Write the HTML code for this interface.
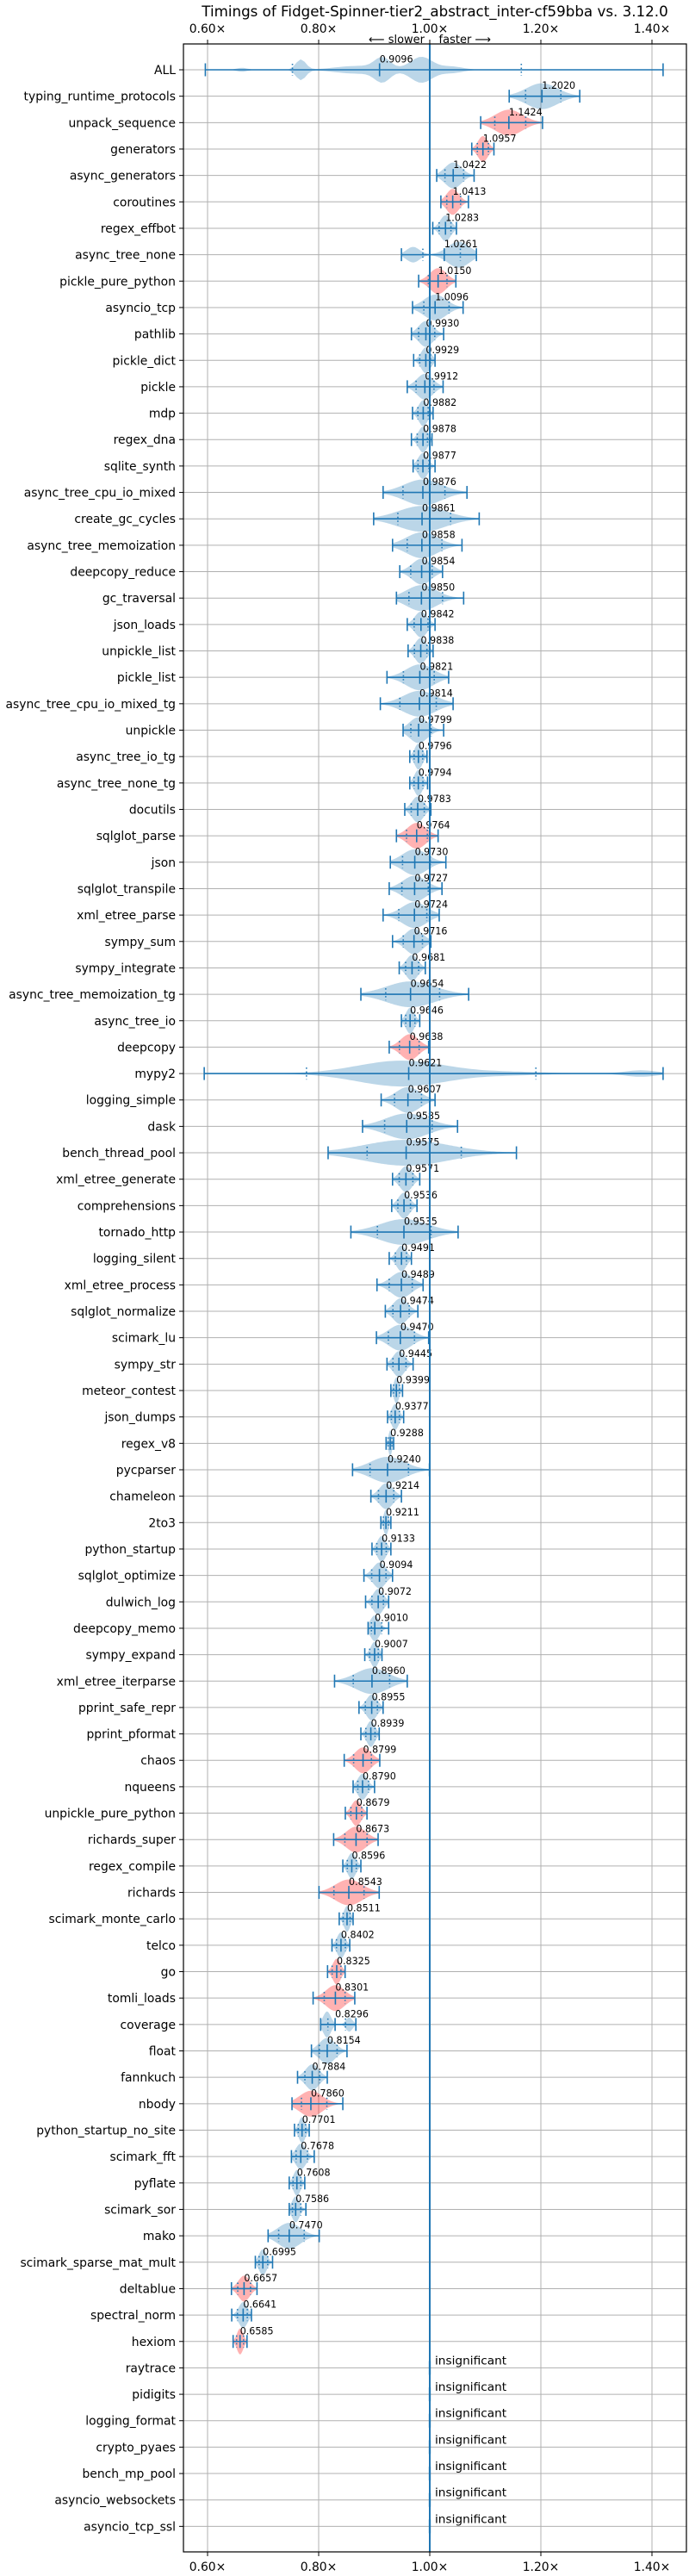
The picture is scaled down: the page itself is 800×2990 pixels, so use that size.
<!DOCTYPE html>
<html><head><meta charset="utf-8"><style>
html,body{margin:0;padding:0;background:#fff}
svg{display:block}
text{font-family:"DejaVu Sans","Liberation Sans",sans-serif;fill:#000}
</style></head><body>
<svg id="chart" xmlns="http://www.w3.org/2000/svg" width="800" height="2990" viewBox="0 0 800 2990">
<rect x="0" y="0" width="800" height="2990" fill="#fff"/>
<text x="505" y="19" text-anchor="middle" font-size="16.7">Timings of Fidget-Spinner-tier2_abstract_inter-cf59bba vs. 3.12.0</text>
<text x="499" y="50" text-anchor="middle" font-size="13" xml:space="preserve">⟵ slower    faster ⟶</text>
<g id="grid"></g>
<g id="violins"></g>
<g id="axes"></g>
</svg>
<script>
const names = ["ALL","typing_runtime_protocols","unpack_sequence","generators","async_generators","coroutines","regex_effbot","async_tree_none","pickle_pure_python","asyncio_tcp","pathlib","pickle_dict","pickle","mdp","regex_dna","sqlite_synth","async_tree_cpu_io_mixed","create_gc_cycles","async_tree_memoization","deepcopy_reduce","gc_traversal","json_loads","unpickle_list","pickle_list","async_tree_cpu_io_mixed_tg","unpickle","async_tree_io_tg","async_tree_none_tg","docutils","sqlglot_parse","json","sqlglot_transpile","xml_etree_parse","sympy_sum","sympy_integrate","async_tree_memoization_tg","async_tree_io","deepcopy","mypy2","logging_simple","dask","bench_thread_pool","xml_etree_generate","comprehensions","tornado_http","logging_silent","xml_etree_process","sqlglot_normalize","scimark_lu","sympy_str","meteor_contest","json_dumps","regex_v8","pycparser","chameleon","2to3","python_startup","sqlglot_optimize","dulwich_log","deepcopy_memo","sympy_expand","xml_etree_iterparse","pprint_safe_repr","pprint_pformat","chaos","nqueens","unpickle_pure_python","richards_super","regex_compile","richards","scimark_monte_carlo","telco","go","tomli_loads","coverage","float","fannkuch","nbody","python_startup_no_site","scimark_fft","pyflate","scimark_sor","mako","scimark_sparse_mat_mult","deltablue","spectral_norm","hexiom"];
const insignificant = ["raytrace","pidigits","logging_format","crypto_pyaes","bench_mp_pool","asyncio_websockets","asyncio_tcp_ssl"];
const medians = [0.9096,1.2020,1.1424,1.0957,1.0422,1.0413,1.0283,1.0261,1.0150,1.0096,0.9930,0.9929,0.9912,0.9882,0.9878,0.9877,0.9876,0.9861,0.9858,0.9854,0.9850,0.9842,0.9838,0.9821,0.9814,0.9799,0.9796,0.9794,0.9783,0.9764,0.9730,0.9727,0.9724,0.9716,0.9681,0.9654,0.9646,0.9638,0.9621,0.9607,0.9585,0.9575,0.9571,0.9536,0.9535,0.9491,0.9489,0.9474,0.9470,0.9445,0.9399,0.9377,0.9288,0.9240,0.9214,0.9211,0.9133,0.9094,0.9072,0.9010,0.9007,0.8960,0.8955,0.8939,0.8799,0.8790,0.8679,0.8673,0.8596,0.8543,0.8511,0.8402,0.8325,0.8301,0.8296,0.8154,0.7884,0.7860,0.7701,0.7678,0.7608,0.7586,0.7470,0.6995,0.6657,0.6641,0.6585];
const mins = [0.596,1.143,1.0917,1.0756,1.0125,1.020,1.0054,0.949,0.980,0.969,0.967,0.971,0.9595,0.969,0.967,0.970,0.916,0.899,0.933,0.946,0.940,0.9595,0.961,0.923,0.911,0.952,0.964,0.964,0.955,0.940,0.929,0.927,0.916,0.933,0.945,0.876,0.949,0.927,0.594,0.9125,0.879,0.817,0.933,0.9315,0.858,0.927,0.905,0.920,0.904,0.923,0.930,0.924,0.9214,0.861,0.894,0.912,0.896,0.8815,0.8845,0.889,0.883,0.8286,0.8726,0.876,0.846,0.862,0.848,0.827,0.8435,0.8006,0.837,0.824,0.816,0.790,0.8036,0.787,0.762,0.752,0.7565,0.751,0.747,0.747,0.709,0.686,0.643,0.6435,0.646];
const maxs = [1.420,1.270,1.203,1.1155,1.0798,1.0696,1.048,1.084,1.047,1.060,1.025,1.0095,1.024,1.006,1.004,1.0095,1.067,1.089,1.058,1.023,1.061,1.0095,1.006,1.034,1.042,1.025,0.995,0.996,1.002,1.015,1.029,1.022,1.017,1.002,0.992,1.070,0.982,0.998,1.420,1.0095,1.050,1.156,0.982,0.977,1.051,0.967,0.988,0.9786,0.998,0.970,0.951,0.953,0.935,0.9994,0.949,0.930,0.930,0.933,0.926,0.926,0.914,0.9595,0.916,0.909,0.910,0.9006,0.887,0.907,0.876,0.909,0.862,0.856,0.8476,0.865,0.867,0.851,0.8155,0.8435,0.783,0.792,0.775,0.777,0.801,0.717,0.689,0.679,0.671];
const slowerRed = ["unpack_sequence","generators","coroutines","pickle_pure_python","sqlglot_parse","deepcopy","chaos","unpickle_pure_python","richards_super","richards","go","tomli_loads","nbody","deltablue","hexiom"];
// extra density modes: [name, center, sigma, weight]
const modeNames = ["ALL","ALL","ALL","ALL","ALL","ALL","async_tree_none","async_tree_none","coverage","coverage","mypy2","mypy2","mypy2"];
const modeCenters = [0.662,0.768,0.87,0.915,0.985,1.04,0.970,1.052,0.815,0.855,0.95,1.15,1.38];
const modeSigmas = [0.010,0.009,0.04,0.014,0.02,0.02,0.012,0.02,0.007,0.006,0.08,0.06,0.03];
const modeWeights = [0.15,0.8,0.3,0.85,1.0,0.25,0.6,1.0,1.0,0.55,1.0,0.12,0.25];
const xTicks = [0.6,0.8,1.0,1.2,1.4];
const xTickLabels = ["0.60×","0.80×","1.00×","1.20×","1.40×"];

const NS = "http://www.w3.org/2000/svg";
const L = 213, R = 797, T = 51, B = 2962;
const X = v => 499 + (v - 1) * 645;
const Y = i => 81 + i * 30.66;
function mk(tag, attrs, parent) {
  const e = document.createElementNS(NS, tag);
  for (const k in attrs) e.setAttribute(k, attrs[k]);
  parent.appendChild(e);
  return e;
}
const grid = document.getElementById('grid');
const vg = document.getElementById('violins');
const ax = document.getElementById('axes');
const total = names.length + insignificant.length;
const allNames = names.concat(insignificant);
const BLUE = "#1f77b4";

for (let t = 0; t < xTicks.length; t++) {
  const gl = mk('line', {x1: X(xTicks[t]), x2: X(xTicks[t]), y1: T, y2: B, stroke: '#b0b0b0', 'stroke-width': 1}, grid);
  
  
  for (const [yy, dir] of [[T, -1], [B, 1]]) {
    const tk = mk('line', {x1: X(xTicks[t]), x2: X(xTicks[t]), y1: yy, y2: yy + dir * 5, stroke: '#000', 'stroke-width': 1}, ax);
    
    
    const tl = mk('text', {x: X(xTicks[t]), y: dir < 0 ? 38 : 2984, 'text-anchor': 'middle', 'font-size': 13.9}, ax);
    tl.textContent = xTickLabels[t];
    
    
  }
}
for (let i = 0; i < total; i++) {
  const y = Y(i);
  const gl = mk('line', {x1: L, x2: R, y1: y, y2: y, stroke: '#b0b0b0', 'stroke-width': 1}, grid);
  
  
  const tk = mk('line', {x1: L - 5, x2: L, y1: y, y2: y, stroke: '#000', 'stroke-width': 1}, ax);
  
  
  const tl = mk('text', {x: L - 9, y: y + 5, 'text-anchor': 'end', 'font-size': 13.9}, ax);
  tl.textContent = allNames[i];
  
  
}

function density(i, v) {
  const n = names[i];
  let s = 0, used = false;
  for (let k = 0; k < modeNames.length; k++) {
    if (modeNames[k] === n) {
      used = true;
      const z = (v - modeCenters[k]) / modeSigmas[k];
      s += modeWeights[k] * Math.exp(-0.5 * z * z);
    }
  }
  if (!used) {
    const sig = (maxs[i] - mins[i]) / 4.5;
    const z = (v - medians[i]) / sig;
    s = Math.exp(-0.5 * z * z);
  }
  return s;
}
for (let i = 0; i < names.length; i++) {
  const y = Y(i), lo = mins[i], hi = maxs[i], md = medians[i];
  const N = 120, pts = [];
  let mx = 0;
  for (let k = 0; k <= N; k++) {
    const v = lo + (hi - lo) * k / N;
    const d = density(i, v);
    pts.push([v, d]);
    if (d > mx) mx = d;
  }
  let top = '', bot = '';
  pts.forEach(([v, d], k) => {
    const h = 15 * d / mx;
    top += (k ? 'L' : 'M') + X(v).toFixed(1) + ',' + (y - h).toFixed(1);
  });
  for (let k = pts.length - 1; k >= 0; k--) {
    const h = 15 * pts[k][1] / mx;
    bot += 'L' + X(pts[k][0]).toFixed(1) + ',' + (y + h).toFixed(1);
  }
  const red = slowerRed.includes(names[i]);
  const body = mk('path', {d: top + bot + 'Z', fill: red ? '#ff0000' : BLUE, 'fill-opacity': 0.3, stroke: 'none'}, vg);
  
  
  const wl = mk('line', {x1: X(lo), x2: X(hi), y1: y, y2: y, stroke: BLUE, 'stroke-width': 1.6}, vg);
  
  
  for (const v of [lo, hi, md]) {
    const c = mk('line', {x1: X(v), x2: X(v), y1: y - 7.5, y2: y + 7.5, stroke: BLUE, 'stroke-width': 1.6}, vg);
    
    
  }
  for (const v of [(lo + md) / 2, (md + hi) / 2]) {
    const q = mk('line', {x1: X(v), x2: X(v), y1: y - 7, y2: y + 7, stroke: BLUE, 'stroke-width': 1.6, 'stroke-dasharray': '1.5,3'}, vg);
    
    
  }
  const lab = mk('text', {x: X(md), y: y - 8.5, 'font-size': 11.1}, vg);
  lab.textContent = md.toFixed(4);
  
  
}
for (let j = 0; j < insignificant.length; j++) {
  const y = Y(names.length + j);
  const s = mk('rect', {x: X(1) - 1.5, y: y - 8, width: 3, height: 16, fill: BLUE, 'fill-opacity': 0.3}, vg);
  
  
  const t = mk('text', {x: 505, y: y - 4, 'font-size': 13.7}, vg);
  t.textContent = 'insignificant';
  
  
}
const ref = mk('line', {x1: X(1), x2: X(1), y1: T, y2: B, stroke: BLUE, 'stroke-width': 2}, ax);


const frame = mk('rect', {x: L, y: T, width: R - L, height: B - T, fill: 'none', stroke: '#000', 'stroke-width': 1.2}, ax);


</script>
</body></html>
